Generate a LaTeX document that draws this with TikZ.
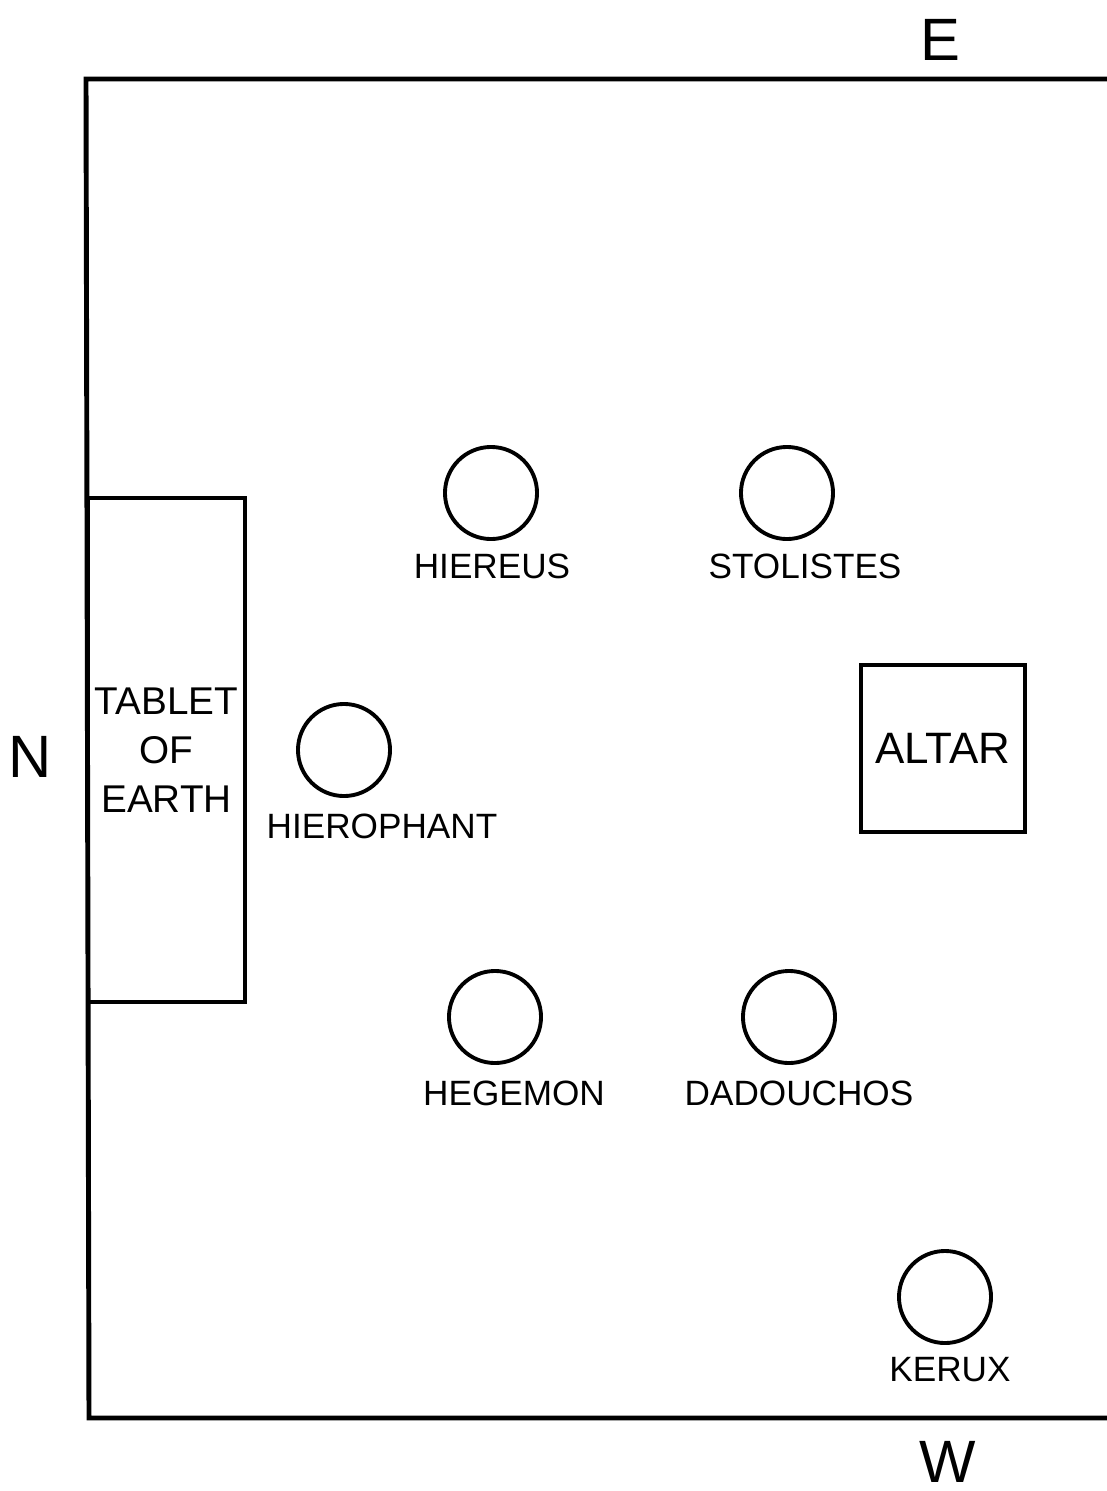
\documentclass[tikz,border=0pt]{standalone}
\usepackage{fontspec}
\setmainfont{Liberation Sans}
\tikzset{
  officer/.style={circle, draw, line width=1.1pt, minimum size=0.92cm, inner sep=0pt},
  lbl/.style={font=\fontsize{10}{12}\selectfont},
  point/.style={font=\fontsize{17}{19}\selectfont, inner sep=0pt},
  furniture/.style={draw, line width=1.2pt, inner sep=0pt}
}
\begin{document}
\begin{tikzpicture}[x=0.01cm, y=-0.01cm]
\useasboundingbox (0,0) rectangle (1107,1491);
\coordinate (tl) at (86,79); \coordinate (tr) at (1107,79);
\coordinate (bl) at (89,1418); \coordinate (br) at (1107,1418);
\draw[line width=1.4pt] (tr)--(tl)--(bl)--(br);
\node[point] (east) at (940,40) {E};
\node[point] (west) at (948,1462) {W};
\node[point] (north) at (30,757) {N};
% tablet and altar
\node[furniture, minimum width=1.57cm, minimum height=5.04cm, align=center,
  font=\fontsize{11}{14}\selectfont] (tablet) at (166.5,750) {TABLET\\OF\\EARTH};
\node[furniture, minimum width=1.64cm, minimum height=1.67cm,
  font=\fontsize{12.5}{14}\selectfont] (altar) at (943,748.5) {ALTAR};
% officers
\node[officer] (hiereus) at (491,493) {};
\node[lbl] at (492,566) {HIEREUS};
\node[officer] (stolistes) at (787,493) {};
\node[lbl] at (805,566) {STOLISTES};
\node[officer] (hierophant) at (344,750) {};
\node[lbl] at (382,826) {HIEROPHANT};
\node[officer] (hegemon) at (495,1017) {};
\node[lbl] at (514,1093) {HEGEMON};
\node[officer] (dadouchos) at (789,1017) {};
\node[lbl] at (799,1093) {DADOUCHOS};
\node[officer] (kerux) at (945,1297) {};
\node[lbl] at (950,1370) {KERUX};
\end{tikzpicture}
\end{document}
